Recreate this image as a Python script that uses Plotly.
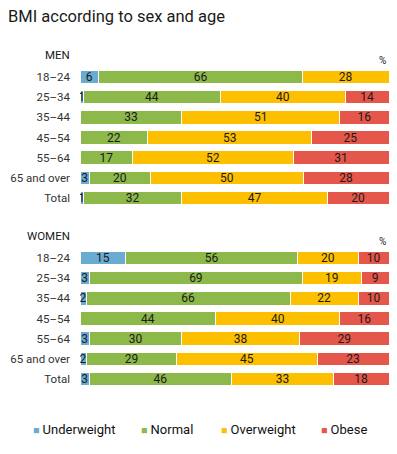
import plotly.graph_objects as go
from plotly.subplots import make_subplots

categories = ["18–24", "25–34", "35–44", "45–54", "55–64", "65 and over", "Total"]
series = ["Underweight", "Normal", "Overweight", "Obese"]
colors = ["#6aabd2", "#8db84a", "#fcc000", "#e5574a"]

men_underweight = [6, 1, 0, 0, 0, 3, 1]
men_normal = [66, 44, 33, 22, 17, 20, 32]
men_overweight = [28, 40, 51, 53, 52, 50, 47]
men_obese = [0, 14, 16, 25, 31, 28, 20]

women_underweight = [15, 3, 2, 0, 3, 2, 3]
women_normal = [56, 69, 66, 44, 30, 29, 46]
women_overweight = [20, 19, 22, 40, 38, 45, 33]
women_obese = [10, 9, 10, 16, 29, 23, 18]

men = [men_underweight, men_normal, men_overweight, men_obese]
women = [women_underweight, women_normal, women_overweight, women_obese]

W, H = 397, 454
L, R = 80, 8
fig = make_subplots(rows=2, cols=1, shared_xaxes=False)

for row, data in ((1, men), (2, women)):
    for name, vals, col in zip(series, data, colors):
        fig.add_trace(go.Bar(
            y=categories, x=vals, orientation="h", name=name,
            marker=dict(color=col, line=dict(color="white", width=1)),
            text=[str(v) if v > 0 else "" for v in vals],
            textposition="inside", insidetextanchor="middle",
            textangle=0, constraintext="none",
            textfont=dict(color="#1a1a1a", size=12, family="Roboto"),
            showlegend=False, hoverinfo="skip",
        ), row=row, col=1)

def frac(px):
    return 1 - px / H

fig.update_layout(
    width=W, height=H, barmode="stack", barnorm="percent", bargap=0.33,
    margin=dict(l=L, r=R, t=0, b=0, autoexpand=False),
    paper_bgcolor="white", plot_bgcolor="white",
    font=dict(family="Roboto", color="#333333", size=12),
    showlegend=False,
    yaxis=dict(domain=[frac(208), frac(67)]),
    yaxis2=dict(domain=[frac(389), frac(248)]),
)
for ax in ("xaxis", "xaxis2"):
    fig.layout[ax].update(range=[0, 100], visible=False, fixedrange=True)
for ax in ("yaxis", "yaxis2"):
    fig.layout[ax].update(autorange="reversed", showgrid=False, zeroline=False,
                          ticks="", ticklabelstandoff=9, automargin=False,
                          tickfont=dict(size=11.5, color="#333333"))

pw = W - L - R
def xp(px):
    return (px - L) / pw

# title
fig.add_annotation(text="BMI according to sex and age", xref="paper", yref="paper",
                   x=xp(6), y=frac(17), xanchor="left", yanchor="middle", showarrow=False,
                   font=dict(size=16.5, color="#1a1a1a", family="Roboto"))

annos = [
    ("MEN", 72, 55, 11.5), ("%", 388, 60, 10),
    ("WOMEN", 72, 236, 11.5), ("%", 388, 241, 10),
]
for t, x, y, s in annos:
    fig.add_annotation(text=t, xref="paper", yref="paper", x=xp(x), y=frac(y),
                       xanchor="right", yanchor="middle", showarrow=False,
                       font=dict(size=s, color="#1a1a1a"))

# legend as text
legend_x = [31, 139, 219, 319]
for name, col, lx in zip(series, colors, legend_x):
    fig.add_annotation(
        text=f"<span style='color:{col};font-size:10.5px'>■</span> {name}",
        xref="paper", yref="paper", x=xp(lx), y=frac(429),
        xanchor="left", yanchor="middle", showarrow=False,
        font=dict(size=13, color="#111111", family="Roboto"))

fig.write_html("out.html", config={"displayModeBar": False},
               post_script="document.body.style.margin='0px';")
